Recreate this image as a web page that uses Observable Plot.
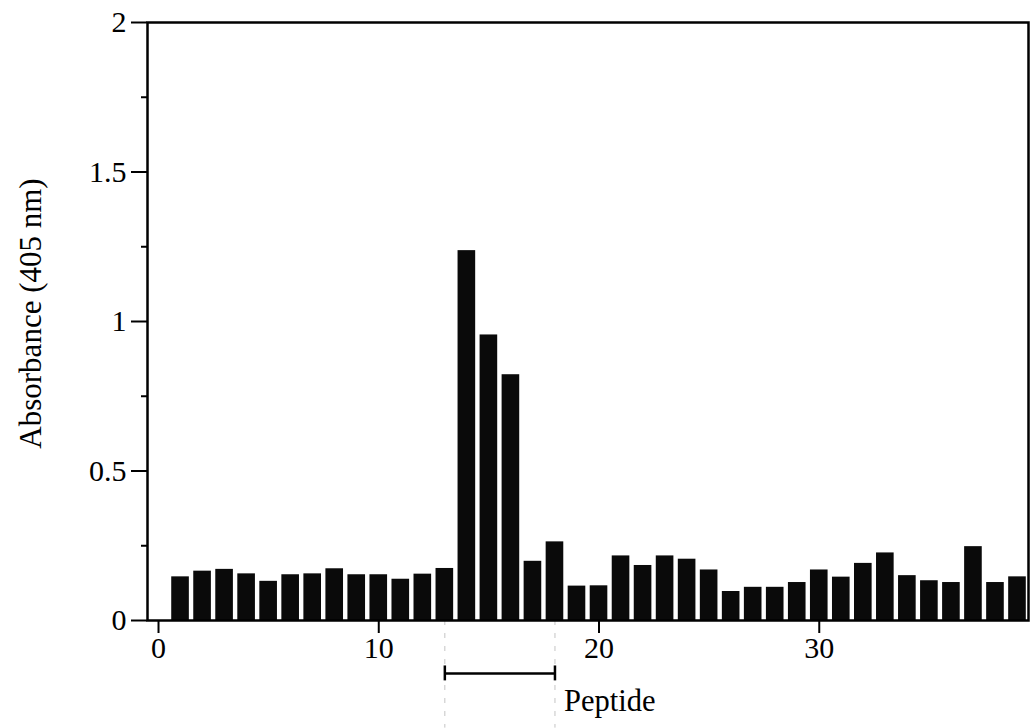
<!DOCTYPE html>
<html>
<head>
<meta charset="utf-8">
<script src="https://cdn.jsdelivr.net/npm/d3@7"></script>
<script src="https://cdn.jsdelivr.net/npm/@observablehq/plot@0.6"></script>
<style>
  body { margin: 0; background: #fff; }
</style>
</head>
<body>
<div id="chart"></div>
<script>
// Fraction numbers and their absorbance readings at 405 nm
const fractions = [1, 2, 3, 4, 5, 6, 7, 8, 9, 10, 11, 12, 13, 14, 15, 16, 17, 18, 19, 20,
                   21, 22, 23, 24, 25, 26, 27, 28, 29, 30, 31, 32, 33, 34, 35, 36, 37, 38, 39];
const absorbance = [0.146, 0.165, 0.171, 0.156, 0.131, 0.153, 0.156, 0.173, 0.153, 0.153,
                    0.138, 0.155, 0.174, 1.237, 0.955, 0.822, 0.198, 0.263, 0.115, 0.116,
                    0.216, 0.184, 0.216, 0.205, 0.169, 0.097, 0.111, 0.111, 0.127, 0.169,
                    0.145, 0.191, 0.226, 0.150, 0.133, 0.127, 0.247, 0.127, 0.146];

// Axis ticks
const yMajorTicks = [0, 0.5, 1, 1.5, 2];
const yMinorTicks = [0.25, 0.75, 1.25, 1.75];
const xTicks = [0, 10, 20, 30];

// Fractions covered by the peptide, marked with a bracket under the axis
const peptideRange = [13, 18];
const peptideLabel = "Peptide";
const yLabel = "Absorbance (405 nm)";

// Annotation depths below the baseline, in absorbance units
const bracketY = -0.177;
const capHalf = 0.025;
const guideBottom = -0.36;
const peptideTextY = -0.27;

const data = fractions.map((f, i) => ({fraction: f, value: absorbance[i]}));
const barHalfWidth = 0.4;

const chart = Plot.plot({
  width: 1031,
  height: 728,
  marginLeft: 147,
  marginRight: 3,
  marginTop: 22,
  marginBottom: 108,
  style: {
    fontFamily: '"Liberation Serif", "DejaVu Serif", serif',
    fontSize: "30px",
    background: "#fff",
    color: "#000",
    overflow: "visible"
  },
  x: {domain: [-0.5, 39.5]},
  y: {domain: [0, 2]},
  marks: [
    Plot.rectY(data, {
      x1: d => d.fraction - barHalfWidth,
      x2: d => d.fraction + barHalfWidth,
      y: "value",
      fill: "#0a0a0a"
    }),
    // faint guides dropping from the peptide bounds
    Plot.ruleX(peptideRange, {y1: 0, y2: guideBottom, stroke: "#c4c4c4", strokeWidth: 1, strokeDasharray: "5,8"}),
    // peptide bracket with end caps
    Plot.ruleY([bracketY], {x1: peptideRange[0], x2: peptideRange[1], stroke: "#000", strokeWidth: 2.5}),
    Plot.ruleX(peptideRange, {y1: bracketY + capHalf, y2: bracketY - capHalf, stroke: "#000", strokeWidth: 2.5}),
    Plot.text([peptideLabel], {x: peptideRange[1], y: peptideTextY, dx: 9, textAnchor: "start", fontSize: 30.5}),
    Plot.frame({stroke: "#000", strokeWidth: 2.5}),
    Plot.axisY(yMajorTicks, {tickSize: 16, tickPadding: 5, strokeWidth: 2, label: null, tickFormat: d => String(d)}),
    Plot.axisY(yMinorTicks, {tickSize: 6, strokeWidth: 2, label: null, tickFormat: () => ""}),
    Plot.axisX(xTicks, {tickSize: 13, tickPadding: 3, strokeWidth: 2, label: null}),
    Plot.text([yLabel], {frameAnchor: "left", textAnchor: "middle", rotate: -90, dx: -116, dy: -8, fontSize: 31})
  ]
});

document.getElementById("chart").append(chart);
</script>
</body>
</html>
